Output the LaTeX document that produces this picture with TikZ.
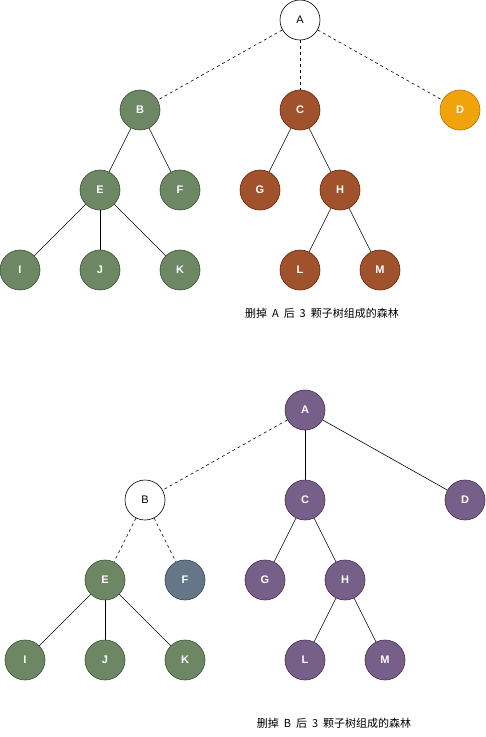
\documentclass[tikz,border=0pt]{standalone}
\usepackage{fontspec}
\setmainfont{Liberation Sans}
\newfontfamily\cjk{Noto Sans CJK SC}
\definecolor{gfill}{HTML}{6D8764}\definecolor{gline}{HTML}{3A5431}
\definecolor{bfill}{HTML}{A0522D}\definecolor{bline}{HTML}{6D1F00}
\definecolor{ofill}{HTML}{F0A30A}\definecolor{oline}{HTML}{BD7000}
\definecolor{pfill}{HTML}{76608A}\definecolor{pline}{HTML}{432D57}
\definecolor{sfill}{HTML}{647687}\definecolor{sline}{HTML}{314354}
\begin{document}
\begin{tikzpicture}[x=1pt,y=-1pt,
  nd/.style={circle,minimum size=40pt,inner sep=0pt,font=\fontsize{11}{12}\selectfont\bfseries,text=white,line width=0.6pt},
  gnode/.style={nd,fill=gfill,draw=gline},
  bnode/.style={nd,fill=bfill,draw=bline},
  onode/.style={nd,fill=ofill,draw=oline},
  pnode/.style={nd,fill=pfill,draw=pline},
  snode/.style={nd,fill=sfill,draw=sline},
  wnode/.style={nd,fill=white,draw=black,text=black,font=\fontsize{11}{12}\selectfont},
  edgeln/.style={line width=0.6pt},
  dashln/.style={line width=0.6pt,dash pattern=on 3pt off 3pt},
  captxt/.style={font=\cjk\fontsize{11}{13}\selectfont}]
\useasboundingbox (0,0) rectangle (486,737);
% top forest
\node[wnode] (A1) at (300,20) {A};
\node[gnode] (B1) at (140,110) {B};
\node[bnode] (C1) at (300,110) {C};
\node[onode] (D1) at (460,110) {D};
\node[gnode] (E1) at (100,190) {E};
\node[gnode] (F1) at (180,190) {F};
\node[bnode] (G1) at (260,190) {G};
\node[bnode] (H1) at (340,190) {H};
\node[gnode] (I1) at (20,270) {I};
\node[gnode] (J1) at (100,270) {J};
\node[gnode] (K1) at (180,270) {K};
\node[bnode] (L1) at (300,270) {L};
\node[bnode] (M1) at (380,270) {M};
\draw[dashln] (A1)--(B1); \draw[dashln] (A1)--(C1); \draw[dashln] (A1)--(D1);
\draw[edgeln] (B1)--(E1); \draw[edgeln] (B1)--(F1);
\draw[edgeln] (C1)--(G1); \draw[edgeln] (C1)--(H1);
\draw[edgeln] (E1)--(I1); \draw[edgeln] (E1)--(J1); \draw[edgeln] (E1)--(K1);
\draw[edgeln] (H1)--(L1); \draw[edgeln] (H1)--(M1);
\node[captxt] (cap1) at (322,313) {删掉\hspace{0.45em}A\hspace{0.45em}后\hspace{0.45em}3\hspace{0.45em}颗子树组成的森林};
% bottom forest
\node[pnode] (A2) at (305,410) {A};
\node[wnode] (B2) at (145,500) {B};
\node[pnode] (C2) at (305,500) {C};
\node[pnode] (D2) at (465,500) {D};
\node[gnode] (E2) at (105,580) {E};
\node[snode] (F2) at (185,580) {F};
\node[pnode] (G2) at (265,580) {G};
\node[pnode] (H2) at (345,580) {H};
\node[gnode] (I2) at (25,660) {I};
\node[gnode] (J2) at (105,660) {J};
\node[gnode] (K2) at (185,660) {K};
\node[pnode] (L2) at (305,660) {L};
\node[pnode] (M2) at (385,660) {M};
\draw[dashln] (A2)--(B2); \draw[edgeln] (A2)--(C2); \draw[edgeln] (A2)--(D2);
\draw[dashln] (B2)--(E2); \draw[dashln] (B2)--(F2);
\draw[edgeln] (C2)--(G2); \draw[edgeln] (C2)--(H2);
\draw[edgeln] (E2)--(I2); \draw[edgeln] (E2)--(J2); \draw[edgeln] (E2)--(K2);
\draw[edgeln] (H2)--(L2); \draw[edgeln] (H2)--(M2);
\node[captxt] (cap2) at (334,723) {删掉\hspace{0.45em}B\hspace{0.45em}后\hspace{0.45em}3\hspace{0.45em}颗子树组成的森林};
\end{tikzpicture}
\end{document}
